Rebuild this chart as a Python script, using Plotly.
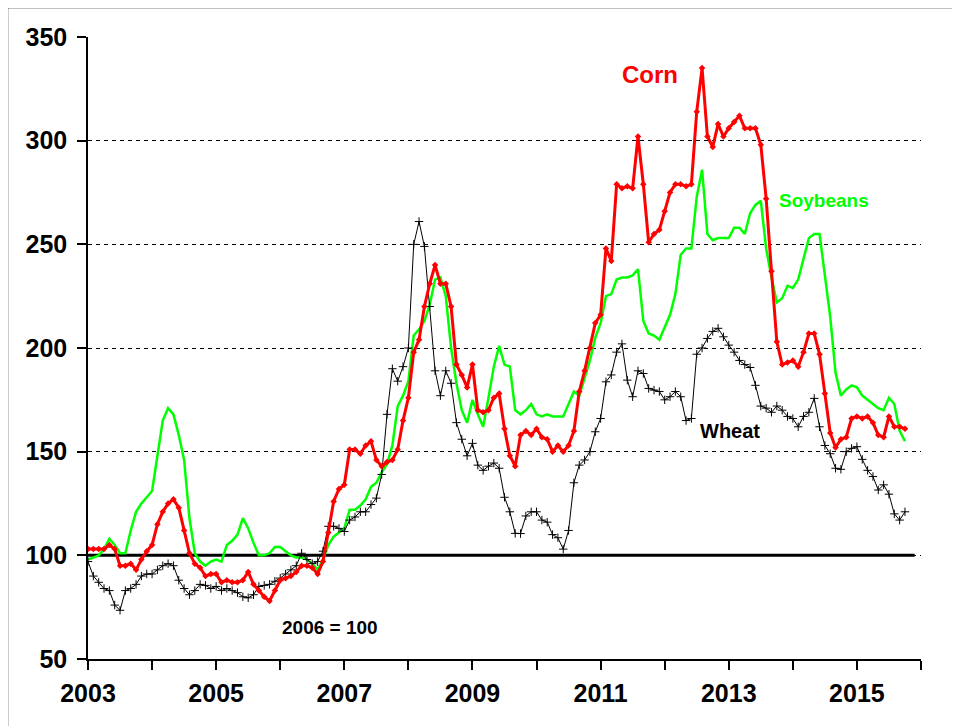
import plotly.graph_objects as go

# Monthly price indexes, Jan 2003 - Oct 2015 (2006 = 100)
start_year = 2003

corn = [
    103, 103, 103, 103, 105, 103, 95, 95, 96, 93, 98, 102,          # 2003
    105, 115, 121, 125, 127, 123, 112, 101, 96, 94, 90, 91,          # 2004
    91, 87, 88, 87, 87, 88, 92, 86, 83, 80, 78, 83,                  # 2005
    88, 89, 90, 92, 95, 95, 94, 91, 97, 111, 126, 132,               # 2006
    134, 151, 151, 149, 153, 155, 146, 143, 145, 146, 151, 165,      # 2007
    176, 198, 204, 220, 231, 240, 231, 231, 220, 192, 187, 181,      # 2008
    192, 170, 169, 170, 176, 178, 161, 148, 143, 158, 160, 158,      # 2009
    161, 157, 156, 150, 153, 150, 153, 160, 179, 189, 200, 212,      # 2010
    216, 248, 242, 279, 277, 278, 277, 302, 279, 251, 255, 257,      # 2011
    266, 275, 279, 279, 278, 279, 314, 335, 302, 297, 308, 302,      # 2012
    306, 309, 312, 306, 306, 306, 298, 272, 237, 203, 192, 193,      # 2013
    194, 191, 198, 207, 207, 197, 178, 159, 152, 156, 157, 166,      # 2014
    167, 166, 167, 164, 158, 157, 167, 162, 162, 161,                # 2015
]

soybeans = [
    98, 99, 100, 103, 108, 105, 101, 101, 112, 121, 125, 128,        # 2003
    131, 148, 165, 171, 168, 158, 146, 118, 101, 97, 95, 97,         # 2004
    98, 97, 105, 107, 110, 118, 113, 106, 100, 100, 101, 104,        # 2005
    104, 102, 100, 99, 99, 98, 96, 93, 98, 105, 109, 111,            # 2006
    113, 122, 122, 124, 127, 133, 135, 140, 144, 153, 172, 177,      # 2007
    184, 206, 209, 213, 221, 233, 234, 225, 200, 183, 170, 164,      # 2008
    175, 168, 162, 176, 191, 201, 192, 191, 170, 168, 170, 173,      # 2009
    168, 167, 168, 167, 167, 167, 173, 179, 177, 186, 194, 205,      # 2010
    212, 225, 226, 233, 234, 234, 235, 238, 213, 207, 206, 204,      # 2011
    210, 216, 226, 245, 248, 248, 273, 286, 255, 252, 253, 253,      # 2012
    253, 258, 258, 255, 265, 269, 271, 248, 234, 222, 224, 230,      # 2013
    229, 233, 243, 253, 255, 255, 235, 215, 188, 177, 180, 182,      # 2014
    181, 177, 175, 173, 171, 170, 176, 173, 160, 155,                # 2015
]

wheat = [
    97, 90, 87, 84, 83, 76, 73.5, 83, 84, 86, 90, 91,                # 2003
    91, 93, 95, 96, 95, 88, 84, 81, 83, 86, 85.5, 84,                # 2004
    85, 83, 84, 83, 82, 80, 79.5, 81, 85, 85.5, 86, 87.5,            # 2005
    89, 91, 93, 95, 101, 98, 96, 97, 102, 114, 114, 113,             # 2006
    111.5, 117, 118.5, 121, 121, 124.5, 127.6, 139, 168, 190, 184, 191,  # 2007
    200, 250, 261, 249, 220, 189, 177, 189, 183, 164, 156, 148,      # 2008
    154, 143.5, 141, 143, 144.5, 142, 128, 121, 110.6, 110.5, 119, 121,  # 2009
    121, 117, 116, 110, 108.5, 103, 112, 135, 143.5, 146, 150, 159.6,    # 2010
    166, 183.7, 187, 198, 202, 184.5, 176.5, 189, 187.7, 180.5, 179.7, 179,  # 2011
    175, 176.5, 179, 176.5, 165, 166, 197, 200, 204.6, 208, 209.5, 205.4,  # 2012
    201.4, 198, 194, 192, 190.6, 182, 172, 171, 169, 172, 170, 167,  # 2013
    166, 162, 167, 169, 175.7, 162, 153, 149, 142, 141.5, 150, 151.6,    # 2014
    152.4, 146.3, 141, 138, 131.5, 134, 129.5, 120, 117, 121,        # 2015
]

months = [start_year + i / 12 for i in range(len(corn))]

x_tick_years = list(range(2003, 2017))
x_tick_labels = [str(y) if y % 2 == 1 and y < 2016 else "" for y in x_tick_years]
y_tick_values = [50, 100, 150, 200, 250, 300, 350]

base_value = 100
base_end = 2015.9

RED = "#FF0000"
GREEN = "#00FF00"
FONT = "Liberation Sans, Arial, sans-serif"

fig = go.Figure()

fig.add_trace(go.Scatter(
    x=months, y=soybeans, mode="lines", name="Soybeans",
    line=dict(color=GREEN, width=2.5),
))
fig.add_trace(go.Scatter(
    x=months, y=wheat, mode="lines+markers", name="Wheat",
    line=dict(color="black", width=1),
    marker=dict(symbol="cross-thin-open", size=6, color="black",
                line=dict(color="black", width=1)),
))
fig.add_trace(go.Scatter(
    x=months, y=corn, mode="lines+markers", name="Corn",
    line=dict(color=RED, width=3),
    marker=dict(symbol="diamond", size=5, color=RED),
))

# thick 2006 = 100 reference line
fig.add_shape(type="line", xref="x", yref="y",
              x0=start_year, x1=base_end, y0=base_value, y1=base_value,
              line=dict(color="black", width=3), layer="below")

# outer frame
fig.add_shape(type="rect", xref="paper", yref="paper",
              x0=-0.097, x1=1.08, y0=-0.15, y1=1.048,
              line=dict(color="black", width=2))

fig.add_annotation(x=2011.77, y=332, text="<b>Corn</b>", showarrow=False,
                   font=dict(family=FONT, size=24, color=RED))
fig.add_annotation(x=2014.49, y=271, text="<b>Soybeans</b>", showarrow=False,
                   font=dict(family=FONT, size=19, color=GREEN))
fig.add_annotation(x=2013.02, y=160, text="<b>Wheat</b>", showarrow=False,
                   font=dict(family=FONT, size=20, color="black"))
fig.add_annotation(x=2006.78, y=65, text="<b>2006 = 100</b>", showarrow=False,
                   font=dict(family=FONT, size=19, color="black"))

fig.update_layout(
    width=960, height=726,
    margin=dict(l=80, r=47, t=29, b=75),
    paper_bgcolor="white", plot_bgcolor="white",
    showlegend=False,
    font=dict(family=FONT, color="black"),
)

fig.update_xaxes(
    range=[2003, 2016],
    tickmode="array", tickvals=x_tick_years, ticktext=x_tick_labels,
    ticks="outside", ticklen=9, tickwidth=1.5, tickcolor="black",
    showline=True, linecolor="black", linewidth=1.5,
    showgrid=False, zeroline=False,
    tickfont=dict(family=FONT, size=25, color="black", weight="bold"),
    ticklabelstandoff=2,
)
fig.update_yaxes(
    range=[50, 350],
    tickmode="array", tickvals=y_tick_values,
    ticks="outside", ticklen=9, tickwidth=1.5, tickcolor="black",
    showline=True, linecolor="black", linewidth=1.5,
    showgrid=True, gridcolor="black", gridwidth=1, griddash="4px,4px",
    zeroline=False,
    tickfont=dict(family=FONT, size=25, color="black", weight="bold"),
    ticklabelstandoff=5,
)

fig.write_html("out.html")
